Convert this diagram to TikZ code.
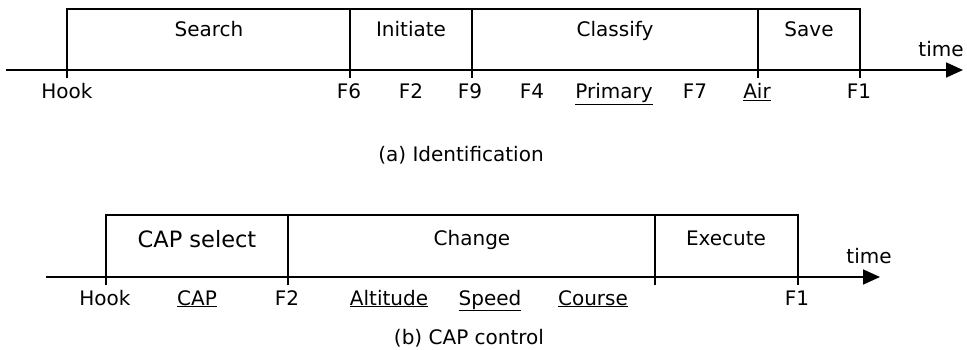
\documentclass[tikz,border=0pt]{standalone}
\usepackage{fontspec}
\setmainfont{DejaVu Sans}
\usetikzlibrary{arrows.meta}
\tikzset{
  axis/.style={line width=1.8pt, -{Triangle[length=17pt,width=15pt]}},
  boxline/.style={line width=1.8pt},
  phase/.style={anchor=base, inner sep=0pt},
  evt/.style={anchor=base, inner sep=0pt},
  captxt/.style={anchor=base, inner sep=0pt}
}

\begin{document}
\begin{tikzpicture}[x=1pt, y=-1pt, font=\fontsize{20}{24}\selectfont]
    \useasboundingbox (0,0) rectangle (967,350);

    % (a) Identification: axis at y=70, box top at y=9
    \coordinate (aL) at (6,70);
    \coordinate (aR) at (963,70);
    \foreach \x/\n in {67/a0,350/a1,472/a2,758/a3,860/a4}
      \coordinate (\n) at (\x,70);
    \draw[axis] (aL) -- (aR);
    \draw[boxline] ([yshift=-8pt]a0) |- ([yshift=61pt]a4) -- ([yshift=-8pt]a4);
    \foreach \n in {a1,a2,a3}
      \draw[boxline] ([yshift=-8pt]\n) -- ([yshift=61pt]\n);

    \node[phase] (search)   at (209,37) {Search};
    \node[phase] (initiate) at (411,37) {Initiate};
    \node[phase] (classify) at (615,37) {Classify};
    \node[phase] (save)     at (809,37) {Save};
    \node[phase] (timeA)    at (941,57) {time};

    \node[evt] (hookA)   at (67,99)  {Hook};
    \node[evt] (f6)      at (349,99) {F6};
    \node[evt] (f2A)     at (411,99) {F2};
    \node[evt] (f9)      at (470,99) {F9};
    \node[evt] (f4)      at (532,99) {F4};
    \node[evt] (primary) at (614,99) {\underline{Primary}};
    \node[evt] (f7)      at (695,99) {F7};
    \node[evt] (air)     at (757,99) {\underline{Air}};
    \node[evt] (f1A)     at (859,99) {F1};

    \node[captxt] (capA) at (461,162) {(a) Identification};

    % (b) CAP control: axis at y=277, box top at y=215
    \coordinate (bL) at (46,277);
    \coordinate (bR) at (880,277);
    \foreach \x/\n in {106/b0,288/b1,655/b2,798/b3}
      \coordinate (\n) at (\x,277);
    \draw[axis] (bL) -- (bR);
    \draw[boxline] ([yshift=-8pt]b0) |- ([yshift=62pt]b3) -- ([yshift=-8pt]b3);
    \foreach \n in {b1,b2}
      \draw[boxline] ([yshift=-8pt]\n) -- ([yshift=62pt]\n);

    \node[phase, font=\fontsize{22.5}{27}\selectfont] (capsel) at (197,247) {CAP select};
    \node[phase] (change)  at (472,245) {Change};
    \node[phase] (execute) at (726,245) {Execute};
    \node[phase] (timeB)   at (869,263) {time};

    \node[evt] (hookB)    at (105,305) {Hook};
    \node[evt] (cap)      at (197,305) {\underline{CAP}};
    \node[evt] (f2B)      at (287,305) {F2};
    \node[evt] (altitude) at (389,305) {\underline{Altitude}};
    \node[evt] (speed)    at (490,305) {\underline{Speed}};
    \node[evt] (course)   at (593,305) {\underline{Course}};
    \node[evt] (f1B)      at (797,305) {F1};

    \node[captxt] (capB) at (469,344) {(b) CAP control};
\end{tikzpicture}
\end{document}
